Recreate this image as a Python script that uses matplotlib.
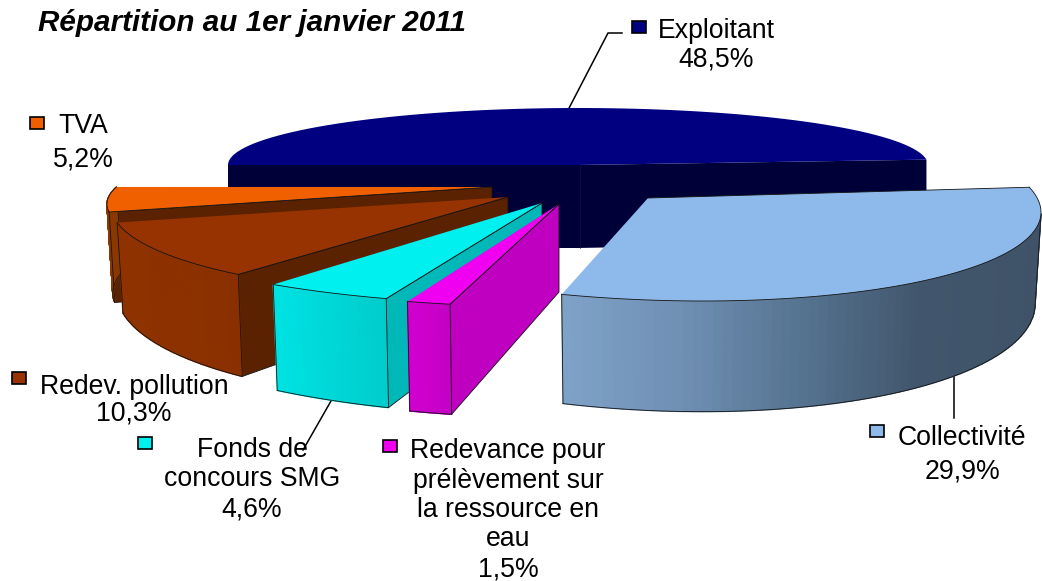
import numpy as np
import matplotlib
matplotlib.use('Agg')
import matplotlib.pyplot as plt
from matplotlib.patches import Polygon, Rectangle
from matplotlib.colors import LinearSegmentedColormap

plt.rcParams['font.family'] = ['Liberation Sans', 'DejaVu Sans']

title = 'Répartition au 1er janvier 2011'
categories = ['Exploitant', 'Collectivité', 'Redevance pour\nprélèvement sur\nla ressource en\neau',
              'Fonds de\nconcours SMG', 'Redev. pollution', 'TVA']
values = [48.5, 29.9, 1.5, 4.6, 10.3, 5.2]

# layout of each slice, all in pixels of the reference (y goes down)
# vertex x, vertex y, rx, ry, delta, start angle, stretch of the sweep, depth, bottom x scale
layout = [
    (578, 165, 350, 57, 90, 180, 1.0, 83, 1.0),
    (648, 198, 393, 103, 82, -14, 1.084, 88, 0.985),
    (559, 204, 470, 103, 90, 103.4, 1.0, 88, 0.985),
    (542, 203, 447, 102, 90, 110.4, 1.0, 88, 0.985),
    (508, 197, 397, 98, 95, 132.8, 1.0, 85, 0.985),
    (492, 187, 385, 78, 102.7, 174, 1.0, 85, 0.985),
]
top_colors = ['#000080', '#8DB9EB', '#F000F0', '#00EFEF', '#963300', '#F06000']
cut_colors = ['#000038', None, '#C000C0', '#00B8B8', '#5A2200', '#5A2200']
wall_colors = [
    None,
    ['#7FA2C8', '#6F8FB3', '#557390', '#41566C', '#3F5268'],
    ['#D000D0', '#C400C4'],
    ['#00E2E2', '#00CCCC'],
    ['#8F3200', '#8A3000'],
    ['#8A3800', '#8A3800'],
]
# painting order, back to front
order = [0, 5, 4, 3, 2, 1]
wall_from = [None, 0, None, None, None, None]

# key square x, y, then text anchor x, first line y, percent y
label_pos = [
    (632, 21, 716, 31, 59),
    (870, 425, 962, 438, 471),
    (383, 440, 508, 451, 569),
    (138, 437, 252, 450, 509),
    (12, 372, 134, 387, 414),
    (30, 117, 83, 126, 159),
]
leaders = [([567, 608, 622], [112, 33, 33]),
           ([954, 954], [360, 418]),
           ([335, 303], [394, 450])]

fig = plt.figure(figsize=(10.42, 5.81), dpi=100)
ax = fig.add_axes([0, 0, 1, 1])
ax.set_xlim(0, 1042)
ax.set_ylim(581, 0)
ax.axis('off')

EDGE = '#151515'
SY = 1.22


def ring(p, phi):
    rx, ry, delta = p[2:5]
    phi = np.radians(phi)
    return np.cos(phi) * rx, ry * np.cos(phi - np.radians(delta))


def draw_slice(i):
    p = layout[i]
    vx, vy, depth, start, sx = p[0], p[1], p[7], p[5], p[8]
    sweep = values[i] * 3.6 * p[6]
    phi = np.linspace(start, start + sweep, 80)
    dx, dy = ring(p, phi)
    tx, ty = vx + dx, vy + dy
    bx, by = vx + sx * dx, vy + depth + SY * dy

    if i == 0:
        # back slice: only the two cut faces show
        for k in (0, -1):
            ax.add_patch(Polygon([(vx, vy), (tx[k], ty[k]), (bx[k], by[k]), (vx, vy + depth)],
                                 fc=cut_colors[i], ec='none', zorder=1))
        ax.plot([580, 580], [vy, vy + depth], color='#10104a', lw=0.5, zorder=1)
    elif cut_colors[i]:
        ax.add_patch(Polygon([(vx, vy), (tx[0], ty[0]), (bx[0], by[0]), (vx, vy + depth)],
                             fc=cut_colors[i], ec=EDGE, lw=0.6, zorder=2 + order.index(i)))

    z = 2 + order.index(i)
    if wall_colors[i]:
        cmap = LinearSegmentedColormap.from_list('w', wall_colors[i])
        keep = np.arange(len(phi))
        if wall_from[i] is not None:
            keep = keep[phi >= wall_from[i]]
        span = tx[keep].max() - tx[keep].min()
        for a, b in zip(keep[:-1], keep[1:]):
            c = cmap((0.5 * (tx[a] + tx[b]) - tx[keep].min()) / span)
            ax.add_patch(Polygon([(tx[a], ty[a]), (tx[b], ty[b]), (bx[b], by[b]), (bx[a], by[a])],
                                 fc=c, ec=c, lw=1.0, zorder=z))
        ax.plot(bx[keep], by[keep], color=EDGE, lw=0.6, zorder=z)
        ax.plot([tx[keep[0]], bx[keep[0]]], [ty[keep[0]], by[keep[0]]], color=EDGE, lw=0.6, zorder=z)
        ax.plot([tx[keep[-1]], bx[keep[-1]]], [ty[keep[-1]], by[keep[-1]]], color=EDGE, lw=0.6, zorder=z)

    pts = [(vx, vy)] + list(zip(tx, ty))
    ax.add_patch(Polygon(pts, fc=top_colors[i], ec='none', zorder=z + 0.1))
    if i != 0:
        ax.plot(tx, ty, color=EDGE, lw=0.6, zorder=z + 0.2)
        ax.plot([vx, tx[0]], [vy, ty[0]], color=EDGE, lw=0.6, zorder=z + 0.2)


for i in order:
    draw_slice(i)

# leaders sit behind the slices so they stop at the pie's edge
for xs, ys in leaders:
    ax.plot(xs, ys, color='black', lw=1.1, zorder=0.5)

ax.text(38, 31, title, fontsize=21.3, fontweight='bold', fontstyle='italic',
        ha='left', va='baseline', zorder=30)

for i, name in enumerate(categories):
    kx, ky, cx, ly, py = label_pos[i]
    ax.add_patch(Rectangle((kx, ky), 14, 12, fc=top_colors[i], ec='black', lw=1.2, zorder=30))
    lines = name.split('\n')
    step = (py - ly) / len(lines)
    for n, line in enumerate(lines):
        ax.text(cx, ly + n * step, line, fontsize=19.2, ha='center', va='center', zorder=30)
    ax.text(cx, py, f'{values[i]:.1f}%'.replace('.', ','), fontsize=19.2, ha='center', va='center', zorder=30)

fig.savefig('out.png', dpi=100)
